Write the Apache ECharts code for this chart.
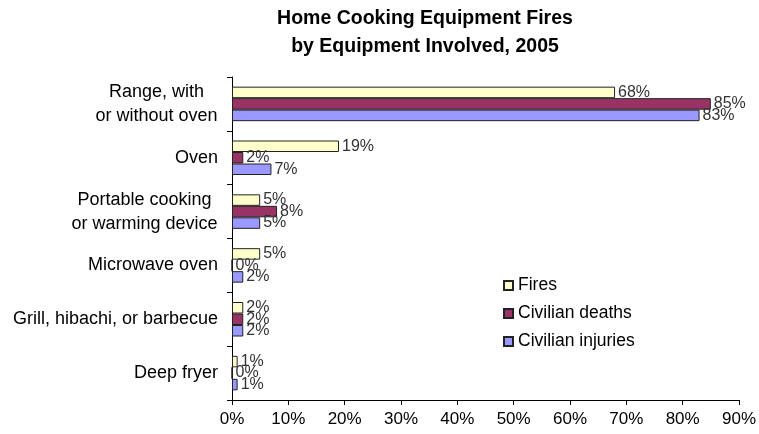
<!DOCTYPE html>
<html>
<head>
<meta charset="utf-8">
<script src="https://cdn.jsdelivr.net/npm/echarts@6/dist/echarts.min.js"></script>
<style>
  html, body { margin: 0; padding: 0; background: #fff; }
  #chart { width: 759px; height: 434px; }
</style>
</head>
<body>
<div id="chart"></div>
<script>
// Categories, top to bottom
var categories = ['Range, with\nor without oven', 'Oven', 'Portable cooking\nor warming device',
  'Microwave oven', 'Grill, hibachi, or barbecue', 'Deep fryer'];

// Percent shares per series
var fires = [68, 19, 5, 5, 2, 1];
var civilianDeaths = [85, 2, 8, 0, 2, 0];
var civilianInjuries = [83, 7, 5, 2, 2, 1];

var xTicks = [0, 10, 20, 30, 40, 50, 60, 70, 80, 90];

var font = 'Liberation Sans, Arial, sans-serif';
var catFontSize = 18;

// measure text so two-line category labels can be centred line by line
var ctx = document.createElement('canvas').getContext('2d');
ctx.font = catFontSize + 'px ' + font;
var rich = {};
categories.forEach(function (c, i) {
  var w = 0;
  c.split('\n').forEach(function (l) { w = Math.max(w, ctx.measureText(l).width); });
  rich['c' + i] = { width: Math.ceil(w), align: 'center', fontFamily: font, fontSize: catFontSize, color: '#000', lineHeight: 24 };
});

function makeSeries(name, data, color) {
  return {
    name: name,
    type: 'bar',
    data: data,
    barWidth: 11.5,
    barGap: '0%',
    itemStyle: { color: color, borderColor: '#222', borderWidth: 1 },
    label: {
      show: true,
      position: 'right',
      distance: 3,
      formatter: '{c}%',
      color: '#333',
      fontFamily: font,
      fontSize: 16
    }
  };
}

var myChart = echarts.init(document.getElementById('chart'));

var option = {
  animation: false,
  title: {
    text: 'Home Cooking Equipment Fires\nby Equipment Involved, 2005',
    left: 420,
    textAlign: 'center',
    top: 0,
    textStyle: { fontFamily: font, fontSize: 19.5, fontWeight: 'bold', color: '#000', lineHeight: 28 }
  },
  legend: {
    orient: 'vertical',
    left: 498,
    top: 271,
    itemGap: 9,
    itemWidth: 9,
    itemHeight: 9,
    icon: 'rect',
    textStyle: { fontFamily: font, fontSize: 17.5, color: '#000', lineHeight: 19 },
    data: ['Fires', 'Civilian deaths', 'Civilian injuries']
  },
  grid: { left: 232, right: 20, top: 77, bottom: 34, containLabel: false },
  xAxis: {
    type: 'value',
    min: xTicks[0],
    max: xTicks[xTicks.length - 1],
    interval: 10,
    splitLine: { show: false },
    axisLine: { show: true, lineStyle: { color: '#000' } },
    axisTick: { show: true, length: 5, lineStyle: { color: '#000' } },
    axisLabel: { formatter: '{value}%', fontFamily: font, fontSize: 17, color: '#000', margin: 11 }
  },
  yAxis: {
    type: 'category',
    data: categories,
    inverse: true,
    axisLine: { show: true, lineStyle: { color: '#000' } },
    axisTick: { show: true, length: 5, lineStyle: { color: '#000' } },
    axisLabel: {
      fontFamily: font, fontSize: catFontSize, color: '#000', margin: 14, lineHeight: 24, align: 'right',
      rich: rich,
      formatter: function (value, idx) {
        if (value.indexOf('\n') < 0) return value;
        return value.split('\n').map(function (l) { return '{c' + idx + '|' + l + '}'; }).join('\n');
      }
    }
  },
  series: [
    makeSeries('Fires', fires, '#FFFFCC'),
    makeSeries('Civilian deaths', civilianDeaths, '#993366'),
    makeSeries('Civilian injuries', civilianInjuries, '#9999FF')
  ]
};

myChart.setOption(option);
</script>
</body>
</html>
